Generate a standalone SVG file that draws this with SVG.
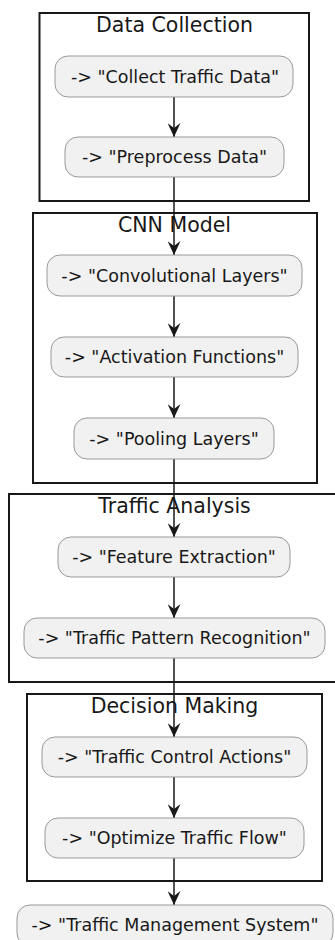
<svg xmlns="http://www.w3.org/2000/svg" width="335" height="940" viewBox="0 0 335 940">
<defs>
<style>
.part rect{fill:none;stroke:#181818;stroke-width:2}
.part text{font-family:"DejaVu Sans",sans-serif;font-size:20.5px;fill:#181818;text-anchor:middle}
.node rect{fill:#F1F1F1;stroke:#999999;stroke-width:1}
.node text{font-family:"DejaVu Sans",sans-serif;font-size:17.5px;fill:#181818;text-anchor:middle}
#connectors line{stroke:#181818;stroke-width:1.5}
</style>
<marker id="ah" viewBox="0 0 14 13" refX="14" refY="6.5" markerWidth="14" markerHeight="13" markerUnits="userSpaceOnUse" orient="auto">
<path d="M0,0 L14,6.5 L0,13 L5,6.5 Z" fill="#181818"/>
</marker>
</defs>
<rect width="335" height="940" fill="#ffffff"/>
<g id="p1" class="part"><rect x="39.5" y="13" width="269.5" height="188"/><text x="174.5" y="31.5">Data Collection</text></g>
<g id="p2" class="part"><rect x="33" y="213" width="284" height="270"/><text x="174.5" y="231.5">CNN Model</text></g>
<g id="p3" class="part"><rect x="9" y="494" width="332" height="188"/><text x="174.5" y="512.5">Traffic Analysis</text></g>
<g id="p4" class="part"><rect x="27" y="694" width="295" height="187"/><text x="174.5" y="713">Decision Making</text></g>
<g id="connectors">
<line x1="174" y1="97" x2="174" y2="137" marker-end="url(#ah)"/>
<line x1="174" y1="177" x2="174" y2="255" marker-end="url(#ah)"/>
<line x1="174" y1="296" x2="174" y2="337" marker-end="url(#ah)"/>
<line x1="174" y1="377" x2="174" y2="418" marker-end="url(#ah)"/>
<line x1="174" y1="459" x2="174" y2="537" marker-end="url(#ah)"/>
<line x1="174" y1="577" x2="174" y2="618" marker-end="url(#ah)"/>
<line x1="174" y1="658" x2="174" y2="737" marker-end="url(#ah)"/>
<line x1="174" y1="777" x2="174" y2="818" marker-end="url(#ah)"/>
<line x1="174" y1="858" x2="174" y2="905" marker-end="url(#ah)"/>
</g>
<g id="n1" class="node"><rect x="55" y="56" width="238" height="41" rx="13"/><text x="175" y="82.5">-&gt; "Collect Traffic Data"</text></g>
<g id="n2" class="node"><rect x="65" y="137" width="219" height="40" rx="13"/><text x="174.5" y="163">-&gt; "Preprocess Data"</text></g>
<g id="n3" class="node"><rect x="47" y="255" width="255" height="41" rx="13"/><text x="174.5" y="281.5">-&gt; "Convolutional Layers"</text></g>
<g id="n4" class="node"><rect x="51" y="337" width="247" height="40" rx="13"/><text x="174.5" y="363">-&gt; "Activation Functions"</text></g>
<g id="n5" class="node"><rect x="74" y="418" width="200" height="41" rx="13"/><text x="174" y="444.5">-&gt; "Pooling Layers"</text></g>
<g id="n6" class="node"><rect x="58" y="537" width="232" height="40" rx="13"/><text x="174" y="563">-&gt; "Feature Extraction"</text></g>
<g id="n7" class="node"><rect x="24" y="618" width="301" height="40" rx="13"/><text x="174.5" y="644">-&gt; "Traffic Pattern Recognition"</text></g>
<g id="n8" class="node"><rect x="42" y="737" width="265" height="40" rx="13"/><text x="174.5" y="763">-&gt; "Traffic Control Actions"</text></g>
<g id="n9" class="node"><rect x="45" y="818" width="259" height="40" rx="13"/><text x="174.5" y="844">-&gt; "Optimize Traffic Flow"</text></g>
<g id="n10" class="node"><rect x="17" y="905" width="316" height="41" rx="13"/><text x="175" y="931">-&gt; "Traffic Management System"</text></g>
</svg>
